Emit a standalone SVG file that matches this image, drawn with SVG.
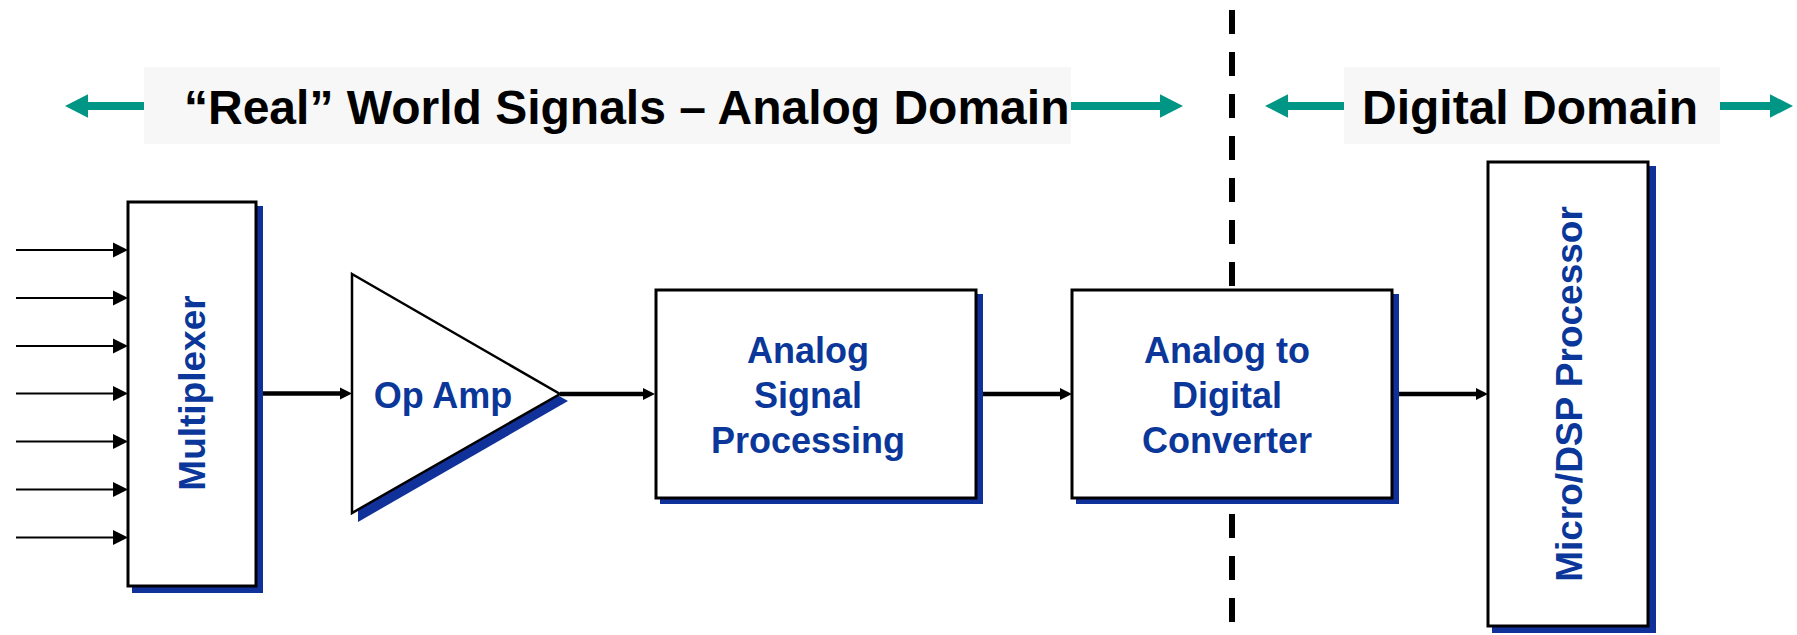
<svg xmlns="http://www.w3.org/2000/svg" width="1797" height="635" viewBox="0 0 1797 635">
<style>
  .box{fill:#ffffff;stroke:#000000;stroke-width:3}
  .shadow{fill:#10319a;stroke:none}
  .lbl{font-family:"Liberation Sans",Arial,sans-serif;font-weight:bold;font-size:36px;fill:#0a3799;text-anchor:middle}
  .vlbl{font-family:"Liberation Sans",Arial,sans-serif;font-weight:bold;font-size:37px;fill:#0a3799;text-anchor:middle}
  .title{font-family:"Liberation Sans",Arial,sans-serif;font-weight:bold;font-size:48px;fill:#000000}
  .band{fill:#f7f7f7}
  .teal{stroke:#009685;stroke-width:8;fill:none;marker-end:url(#tealHead)}
  .thin{stroke:#000000;stroke-width:2;fill:none;marker-end:url(#thinHead)}
  .thick{stroke:#000000;stroke-width:4.5;fill:none;marker-end:url(#thickHead)}
</style>
<defs>
  <marker id="tealHead" markerUnits="userSpaceOnUse" markerWidth="24" markerHeight="24" refX="0" refY="11.7" orient="auto" overflow="visible">
    <path d="M0,0 L23,11.7 L0,23.4 z" fill="#009685"/>
  </marker>
  <marker id="thinHead" markerUnits="userSpaceOnUse" markerWidth="16" markerHeight="16" refX="0" refY="7.5" orient="auto" overflow="visible">
    <path d="M0,0 L15,7.5 L0,15 z" fill="#000000"/>
  </marker>
  <marker id="thickHead" markerUnits="userSpaceOnUse" markerWidth="13" markerHeight="13" refX="0" refY="6" orient="auto" overflow="visible">
    <path d="M0,0 L12,6 L0,12 z" fill="#000000"/>
  </marker>
</defs>

<g id="divider">
  <line x1="1232" y1="10" x2="1232" y2="626" stroke="#000000" stroke-width="6" stroke-dasharray="24 18"/>
</g>

<g id="analog-domain-label">
  <rect class="band" x="144" y="67" width="927" height="77"/>
  <text class="title" x="184" y="124">“Real” World Signals – Analog Domain</text>
</g>
<g id="digital-domain-label">
  <rect class="band" x="1344" y="67" width="376" height="77"/>
  <text class="title" x="1530" y="124" text-anchor="middle">Digital Domain</text>
</g>

<g id="connectors">
  <line class="teal" x1="144" y1="106" x2="88" y2="106"/>
  <line class="teal" x1="1071" y1="106" x2="1160" y2="106"/>
  <line class="teal" x1="1344" y1="106" x2="1288" y2="106"/>
  <line class="teal" x1="1720" y1="106" x2="1770" y2="106"/>

  <line class="thin" x1="16" y1="250" x2="113" y2="250"/>
  <line class="thin" x1="16" y1="298" x2="113" y2="298"/>
  <line class="thin" x1="16" y1="346" x2="113" y2="346"/>
  <line class="thin" x1="16" y1="393.5" x2="113" y2="393.5"/>
  <line class="thin" x1="16" y1="441.5" x2="113" y2="441.5"/>
  <line class="thin" x1="16" y1="489.5" x2="113" y2="489.5"/>
  <line class="thin" x1="16" y1="537.5" x2="113" y2="537.5"/>

  <line class="thick" x1="256" y1="393.5" x2="340" y2="393.5"/>
  <line class="thick" x1="560" y1="394" x2="643" y2="394"/>
  <line class="thick" x1="977" y1="394" x2="1060" y2="394"/>
  <line class="thick" x1="1393" y1="394" x2="1476" y2="394"/>
</g>

<g id="multiplexer">
  <rect class="shadow" x="132" y="206" width="131" height="387"/>
  <rect class="box" x="128" y="202" width="128" height="384"/>
  <text class="vlbl" transform="translate(205,393) rotate(-90)">Multiplexer</text>
</g>

<g id="op-amp">
  <polygon class="shadow" points="358,282 568,401 358,522"/>
  <polygon points="352,274 560,394 352,513" fill="#ffffff" stroke="#000000" stroke-width="2.5" stroke-linejoin="miter"/>
  <text class="lbl" x="443" y="408">Op Amp</text>
</g>

<g id="analog-signal-processing">
  <rect class="shadow" x="660" y="294" width="323" height="210"/>
  <rect class="box" x="656" y="290" width="320" height="208"/>
  <text class="lbl" x="808" y="363">Analog</text>
  <text class="lbl" x="808" y="408">Signal</text>
  <text class="lbl" x="808" y="453">Processing</text>
</g>

<g id="adc">
  <rect class="shadow" x="1076" y="294" width="323" height="210"/>
  <rect class="box" x="1072" y="290" width="320" height="208"/>
  <text class="lbl" x="1227" y="363">Analog to</text>
  <text class="lbl" x="1227" y="408">Digital</text>
  <text class="lbl" x="1227" y="453">Converter</text>
</g>

<g id="micro-dsp-processor">
  <rect class="shadow" x="1492" y="166" width="164" height="467"/>
  <rect class="box" x="1488" y="162" width="160" height="464"/>
  <text class="vlbl" transform="translate(1582,394) rotate(-90)">Micro/DSP Processor</text>
</g>
</svg>
